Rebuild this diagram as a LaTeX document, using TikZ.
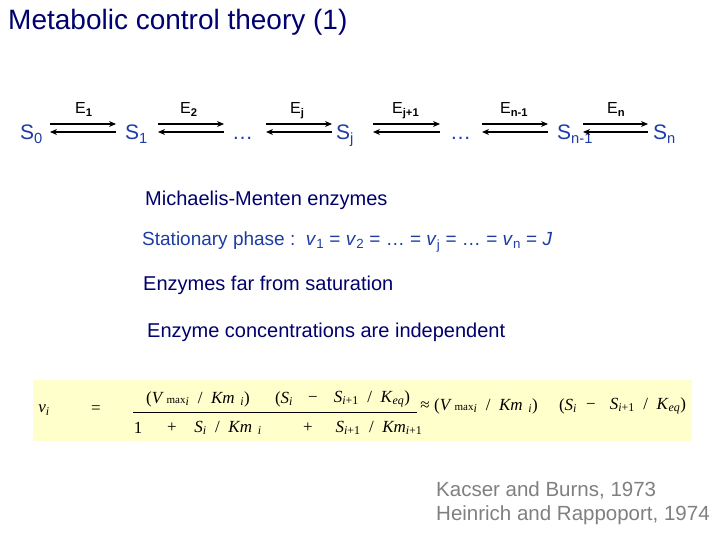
\documentclass[tikz,border=0pt]{standalone}
\usepackage{fontspec}
\setmainfont{Liberation Sans}
\newfontfamily\tms{Liberation Serif}
\usetikzlibrary{arrows.meta}
\definecolor{navy}{RGB}{0,0,110}
\definecolor{sblue}{RGB}{30,60,165}
\definecolor{fyellow}{RGB}{255,255,204}
\definecolor{refgray}{RGB}{128,128,128}
\newcommand\Sub[1]{\textsubscript{\itshape #1}}
\newcommand\Sip{\textit{S}\textsubscript{\itshape i\upshape +1}}
\newcommand\fslash{\enspace/\enspace}
\begin{document}
\begin{tikzpicture}[x=1pt,y=-1pt,
  slab/.style={anchor=base west,inner sep=0pt,text=sblue,font=\fontsize{21}{24}\selectfont},
  elab/.style={anchor=base west,inner sep=0pt,font=\fontsize{16}{18}\selectfont},
  fwd/.style={line width=1.6pt,-{Stealth[length=7pt,width=6pt]}},
  txt/.style={anchor=west,inner sep=0pt,text=navy,font=\fontsize{20}{24}\selectfont},
  fm/.style={inner sep=0pt,font=\tms\fontsize{17}{20}\selectfont}]
\useasboundingbox (0,0) rectangle (720,540);
\fill[white] (0,0) rectangle (720,540);
% title
\node[anchor=west,inner sep=0pt,text=navy,font=\fontsize{28}{32}\selectfont] (title) at (8,22) {Metabolic control theory (1)};
% chain
\node[slab] (s0) at (20,140) {S\textsubscript{0}};
\node[slab] (s1) at (125,140) {S\textsubscript{1}};
\node[slab] (d1) at (232,140) {\ldots};
\node[slab] (sj) at (336,140) {S\textsubscript{j}};
\node[slab] (d2) at (450,140) {\ldots};
\node[slab] (sn1) at (557,140) {S\textsubscript{n-1}};
\node[slab] (sn) at (653,140) {S\textsubscript{n}};
\node[elab] (e1) at (75,114) {E\textsubscript{\bfseries 1}};
\node[elab] (e2) at (180,114) {E\textsubscript{\bfseries 2}};
\node[elab] (ej) at (290,114) {E\textsubscript{\bfseries j}};
\node[elab] (ej1) at (392,114) {E\textsubscript{\bfseries j+1}};
\node[elab] (en1) at (500,114) {E\textsubscript{\bfseries n-1}};
\node[elab] (en) at (607,114) {E\textsubscript{\bfseries n}};
\foreach \i/\a/\b in {1/50/116,2/158/224,3/266/332,4/373/440,5/482/548,6/583/648}{
  \coordinate (l\i) at (\a,128);
  \coordinate (r\i) at (\b,128);
  \draw[fwd] ([yshift=4pt]l\i) -- ([yshift=4pt]r\i);
  \draw[fwd] ([yshift=-4pt]r\i) -- ([yshift=-4pt]l\i);
}
% statements
\node[txt] (mm) at (145,200) {Michaelis-Menten enzymes};
\node[txt,text=sblue,font=\fontsize{19}{24}\selectfont] (sp) at (142,242) {Stationary phase :\ \ \textit{v}\textsubscript{1} = \textit{v}\textsubscript{2} = \ldots{} = \textit{v}\textsubscript{j} = \ldots{} = \textit{v}\textsubscript{n} = \textit{J}};
\node[txt] (fs) at (143,285) {Enzymes far from saturation};
\node[txt] (ci) at (147,332) {Enzyme concentrations are independent};
% formula
\fill[fyellow] (33,380) rectangle (692,441);
\node[fm] (vi) at (44,410) {\textit{v}\Sub{i}};
\node[fm] (eq) at (96,410) {=};
\node[fm] (n1) at (198,399) {(\textit{V}\,{\fontsize{11}{11}\selectfont max}\Sub{i}\fslash\textit{Km}\,\,\Sub{i})};
\node[fm] (n2) at (284,399) {(\textit{S}\Sub{i}};
\node[fm] (n3) at (313,399) {−};
\node[fm] (n4) at (372,399) {\Sip\fslash\textit{K}\Sub{eq})};
\coordinate (bl) at (133,412);
\coordinate (br) at (417,412);
\draw[line width=0.8pt] (bl) -- (br);
\node[fm] (d1f) at (138,428) {1};
\node[fm] (d2f) at (172,428) {+};
\node[fm] (d3f) at (228,428) {\textit{S}\Sub{i}\fslash\textit{Km}\,\,\Sub{i}};
\node[fm] (d4f) at (308,428) {+};
\node[fm] (d5f) at (379,428) {\Sip\fslash\textit{Km}\textsubscript{\itshape i\upshape +1}};
\node[fm] (ap) at (425,406) {≈};
\node[fm] (r1f) at (486,406) {(\textit{V}\,{\fontsize{11}{11}\selectfont max}\Sub{i}\fslash\textit{Km}\,\,\Sub{i})};
\node[fm] (r2f) at (568,406) {(\textit{S}\Sub{i}};
\node[fm] (r3f) at (591,406) {−};
\node[fm] (r4f) at (648,406) {\Sip\fslash\textit{K}\Sub{eq})};
% references
\node[anchor=west,inner sep=0pt,text=refgray,font=\fontsize{20.5}{24}\selectfont] (k1) at (436,490) {Kacser and Burns, 1973};
\node[anchor=west,inner sep=0pt,text=refgray,font=\fontsize{20.5}{24}\selectfont] (k2) at (436,515) {Heinrich and Rappoport, 1974};
\end{tikzpicture}
\end{document}
